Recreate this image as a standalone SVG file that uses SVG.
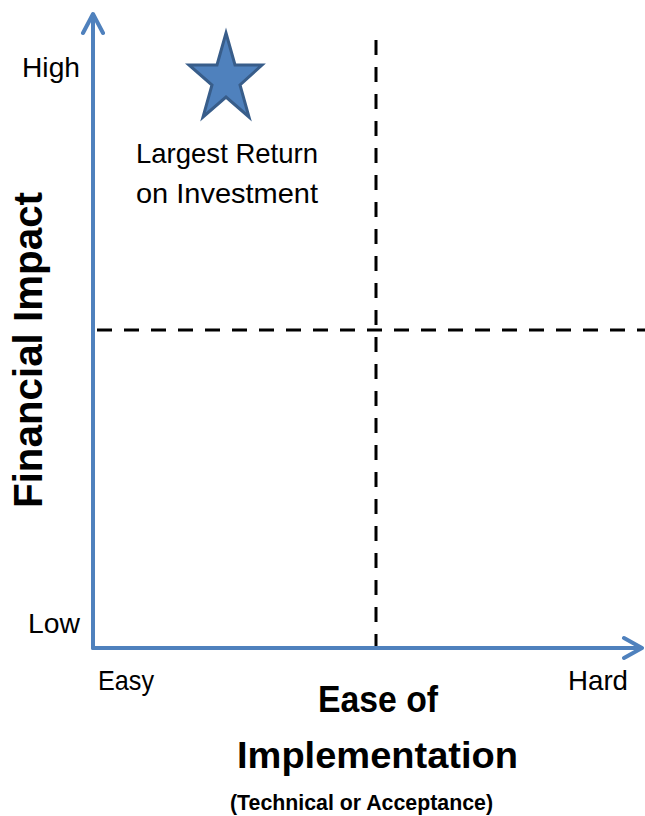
<svg xmlns="http://www.w3.org/2000/svg" width="645" height="816" viewBox="0 0 645 816">
<style>
.lbl{font-family:"Liberation Sans",Arial,sans-serif;font-size:28px;fill:#000}
.bold{font-family:"Liberation Sans",Arial,sans-serif;font-weight:bold;fill:#000}
.axis{stroke:#4f81bd;stroke-width:4;fill:none;stroke-linecap:round;stroke-linejoin:round}
.dash{stroke:#000;stroke-width:3;stroke-dasharray:15 12;fill:none}
</style>
<rect width="645" height="816" fill="#fff"/>
<g id="connectors">
<path class="dash" d="M97 330 H645"/>
<path class="dash" d="M376 40 V648"/>
<path class="axis" d="M93 648 V15 M83 33 L93 14 L103 33"/>
<path class="axis" d="M93 648 H641 M624 638 L642 648 L624 658"/>
</g>
<g id="star">
<polygon points="226,33 235,65 262,65 240,85 249,117 226,97 203,117 212,85 189,65 217,65" fill="#4f81bd" stroke="#385d8a" stroke-width="3" stroke-linejoin="miter"/>
</g>
<g id="labels">
<text class="lbl" x="80" y="77" text-anchor="end" textLength="58" lengthAdjust="spacingAndGlyphs">High</text>
<text class="lbl" x="80" y="633" text-anchor="end" textLength="52" lengthAdjust="spacingAndGlyphs">Low</text>
<text class="lbl" x="98" y="690" textLength="56" lengthAdjust="spacingAndGlyphs">Easy</text>
<text class="lbl" x="568" y="690" textLength="60" lengthAdjust="spacingAndGlyphs">Hard</text>
<text class="lbl" x="136" y="163" textLength="182" lengthAdjust="spacingAndGlyphs">Largest Return</text>
<text class="lbl" x="136" y="203" textLength="182" lengthAdjust="spacingAndGlyphs">on Investment</text>
</g>
<g id="x-title">
<text class="bold" x="318" y="712" font-size="37" textLength="120" lengthAdjust="spacingAndGlyphs">Ease of</text>
<text class="bold" x="237" y="768" font-size="37" textLength="281" lengthAdjust="spacingAndGlyphs">Implementation</text>
<text class="bold" x="230" y="810" font-size="22" textLength="263" lengthAdjust="spacingAndGlyphs">(Technical or Acceptance)</text>
</g>
<g id="y-title">
<text class="bold" transform="translate(42,350) rotate(-90)" x="0" y="0" text-anchor="middle" font-size="40" textLength="316" lengthAdjust="spacingAndGlyphs">Financial Impact</text>
</g>
</svg>
